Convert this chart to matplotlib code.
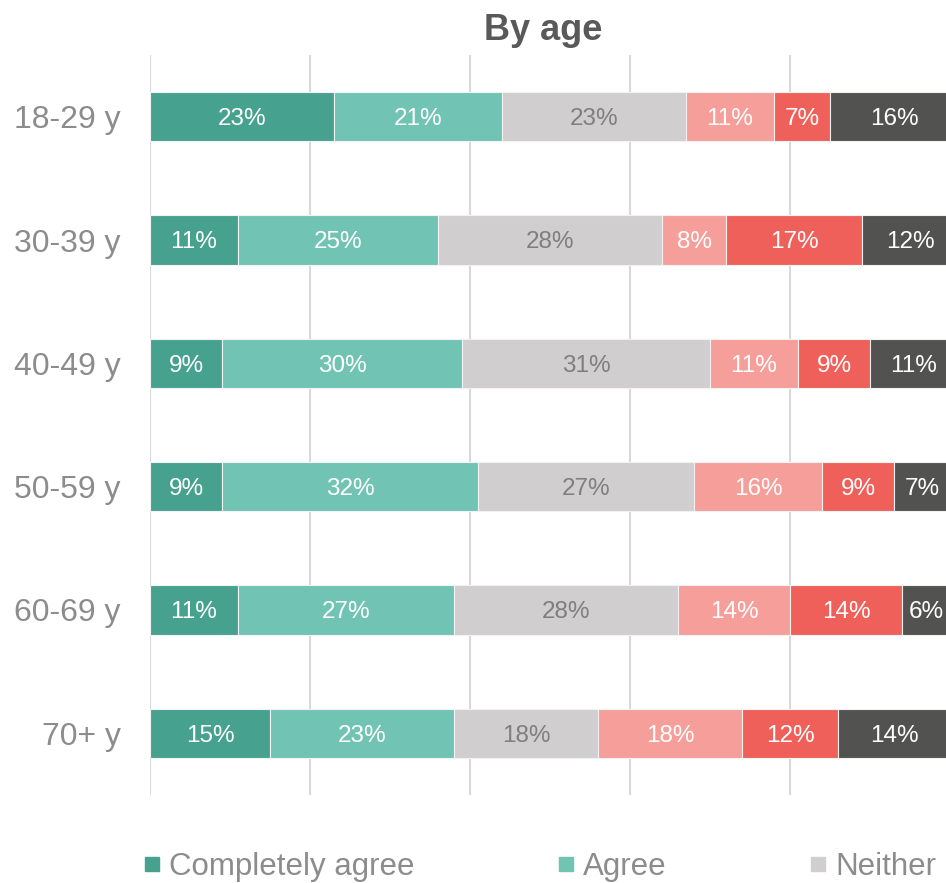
import matplotlib.pyplot as plt
from matplotlib.lines import Line2D

plt.rcParams['font.family'] = ['Liberation Sans', 'DejaVu Sans']

ages = ["18-29 y", "30-39 y", "40-49 y", "50-59 y", "60-69 y", "70+ y"]
answers = ["Completely agree", "Agree", "Neither", "Disagree",
           "Completely disagree", "Don't know"]

completely_agree = [23, 11, 9, 9, 11, 15]
agree = [21, 25, 30, 32, 27, 23]
neither = [23, 28, 31, 27, 28, 18]
disagree = [11, 8, 11, 16, 14, 18]
completely_disagree = [7, 17, 9, 9, 14, 12]
dont_know = [16, 12, 11, 7, 6, 14]

series = [completely_agree, agree, neither, disagree, completely_disagree, dont_know]
colors = ["#46A28F", "#71C4B4", "#D0CECF", "#F59E9A", "#F0605A", "#525350"]
text_colors = ["white", "white", "#7F7F7F", "white", "white", "white"]

fig = plt.figure(figsize=(9.46, 8.83), dpi=100)
ax = fig.add_axes([150 / 946, 88 / 883, 1 - 150 / 946, 740 / 883])

ypos = list(range(len(ages)))
left = [0] * len(ages)
for vals, col, tcol in zip(series, colors, text_colors):
    bars = ax.barh(ypos, vals, left=left, height=0.4, color=col,
                   edgecolor="#F2F2F2", linewidth=0.8, zorder=3)
    for b, v in zip(bars, vals):
        ax.text(b.get_x() + b.get_width() / 2,
                b.get_y() + b.get_height() / 2 + 0.02,
                f"{v}%", ha="center", va="center", color=tcol, fontsize=17.5,
                zorder=4, clip_on=False)
    left = [l + v for l, v in zip(left, vals)]

ax.set_xlim(0, 99.5)
ax.set_ylim(5.5, -0.5)
ax.set_xticks([0, 20, 40, 60, 80])
ax.set_xticklabels([])
ax.set_yticks(ypos)
ax.set_yticklabels(ages, fontsize=23, color="#8C8C8C")
ax.tick_params(length=0, pad=21)
ax.grid(axis="x", color="#D9D9D9", linewidth=1.5, zorder=0)
for s in ax.spines.values():
    s.set_visible(False)

fig.text(543 / 946, 853 / 883, "By age", ha="center", va="center",
         fontsize=26, fontweight="bold", color="#595959")

# only the first three legend entries fit inside the picture
handles = [Line2D([], [], marker="s", linestyle="", color=c, markersize=10)
           for c in colors[:3]]
leg = fig.legend(handles, answers[:3], loc="center left",
                 bbox_to_anchor=(144 / 946, 16 / 883), ncol=3, frameon=False,
                 fontsize=22.5, handlelength=0.5, handletextpad=0.3,
                 columnspacing=4.6, borderpad=0, borderaxespad=0)
for t in leg.get_texts():
    t.set_color("#8C8C8C")

fig.savefig("out.png", dpi=100)
